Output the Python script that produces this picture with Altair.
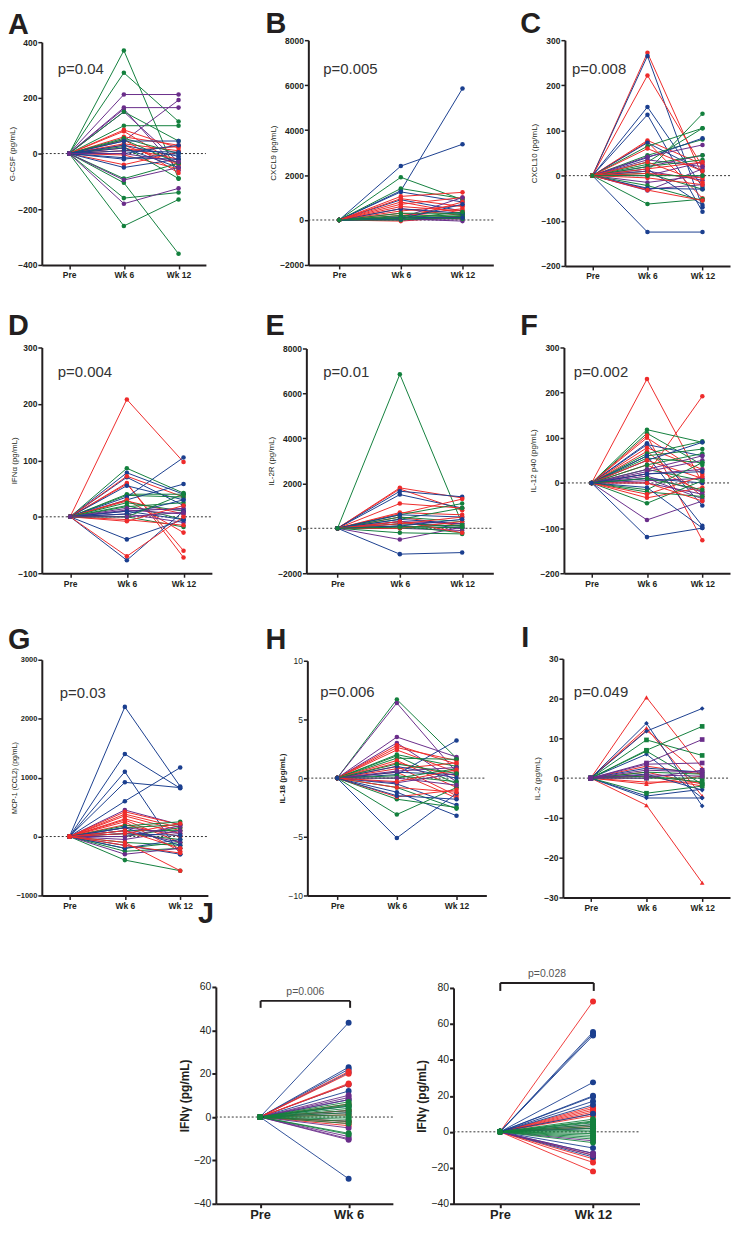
import altair as alt
import pandas as pd

FONT = "Liberation Sans"
INK = "#231f20"
W, H, M = 728, 1218, 8

TIMES = ["Pre", "Wk 6", "Wk 12"]
GROUPS = ["P", "R", "B", "G"]
COLORS = ["#6a2d8a", "#ee2b2b", "#1b3f8f", "#13803d"]
SHAPES_I = ["square", "triangle-up", "diamond", "square"]

# ---- A: G-CSF ----
gcsf_group = ["G", "G", "P", "P", "P", "P", "G", "G", "P", "R", "R", "R", "R", "R", "R", "R", "R", "R", "R",
              "G", "G", "G", "B", "B", "B", "B", "B", "B", "B", "B", "G", "G", "G", "G", "P", "P", "P"]
gcsf_wk6 = [370, 290, 212, 165, 160, 150, 150, 100, 45, 85, 80, 60, 50, 35, 20, 10, -5, -40, 30,
            50, 55, 25, 45, 30, 20, 0, -15, -50, 10, -20, -90, -105, -160, -260, -95, -180, 0]
gcsf_wk12 = [-90, 115, 212, 165, -60, -30, 45, 100, 192, 20, -40, 30, -70, 10, -20, 25, -55, 5, -40,
             -35, 0, -90, 45, -10, -50, 30, -20, -20, 5, 0, -35, -360, -140, -165, -50, -125, -30]

# ---- B: CXCL9 ----
cxcl9_group = ["B", "B", "G", "G", "B", "B", "R", "R", "R", "R", "R", "R", "R", "R", "R", "R", "R",
               "P", "P", "P", "G", "G", "G", "G", "G", "G", "B", "B", "B", "R", "G"]
cxcl9_wk6 = [2400, 1300, 1900, 1400, 1250, 900, 1050, 950, 800, 700, 500, 400, 300, 200, 100, -50, 50,
             100, 50, 0, 300, 200, 100, 50, 0, 150, 500, 100, 50, 600, 80]
cxcl9_wk12 = [3370, 5850, 900, 950, 800, 400, 1230, 600, 300, 1000, 200, 650, 100, 500, 50, 150, 800,
              1000, -50, 50, 300, 150, 250, 100, 200, 50, 300, 100, 700, 400, 350]

# ---- C: CXCL10 ----
cxcl10_group = ["R", "B", "R", "B", "B", "R", "R", "B", "G", "G", "G", "G", "B", "P", "P", "P", "P", "P",
                "P", "P", "P", "G", "G", "G", "G", "G", "B", "B", "B", "R", "R", "R", "R", "R", "R", "G"]
cxcl10_wk6 = [272, 265, 222, 152, 135, 78, 75, 73, 65, 10, 45, 30, 40, 42, 35, 20, 10, 0,
              -15, -30, -33, 25, 20, 5, -22, -63, -125, -28, 15, 60, 30, 15, 5, -5, -32, 0]
cxcl10_wk12 = [0, -70, 20, -25, -80, 25, -50, 10, 105, 137, 80, 105, 83, 68, 20, 45, -10, 30,
               0, -20, 15, 45, 35, -30, -55, -52, -125, -30, -65, 10, -15, 30, -5, -20, -55, 0]

# ---- D: IFN-alpha ----
ifna_group = ["R", "G", "B", "B", "R", "R", "R", "B", "G", "G", "B", "B", "R", "R", "G", "G", "G",
              "P", "P", "P", "P", "B", "B", "G", "R", "R", "B", "B", "R", "G", "P"]
ifna_wk6 = [208, 86, 78, 70, 72, 60, 58, 55, 40, 38, 35, 30, 30, 28, 25, 20, 18,
            15, 12, 10, 5, 10, 5, 0, -5, -8, -40, -77, -70, 0, 0]
ifna_wk12 = [97, 42, 40, 20, 35, -72, -60, 30, 40, 35, 105, 58, -28, 5, 10, -5, 25,
             12, 5, 15, -10, -5, 30, -18, -15, 20, -5, 10, 0, 40, 8]

# ---- E: IL-2R ----
il2r_group = ["G", "R", "R", "B", "B", "R", "R", "R", "R", "G", "G", "G", "B", "B", "B", "P", "P", "P",
              "P", "P", "G", "G", "G", "G", "R", "R", "R", "B", "B", "G"]
il2r_wk6 = [6850, 1800, 1750, 1650, 1500, 1100, 700, 650, 500, 600, 500, 400, 600, 400, 300, 300, 200, 100,
            -500, 0, 200, 100, -200, 0, 300, 200, 0, -1150, 100, 50]
il2r_wk12 = [200, 1350, 800, 1400, 900, 900, 600, 1300, 100, 1100, 300, 900, 500, 200, 0, 200, 100, 0,
             50, -100, 100, -200, -250, 50, -200, 500, 300, -1080, 400, 150]

# ---- F: IL-12 p40 ----
il12_group = ["R", "R", "G", "G", "R", "R", "B", "B", "R", "R", "G", "G", "G", "B", "B", "R", "R", "G", "G",
              "P", "P", "P", "P", "P", "P", "P", "P", "B", "B", "B", "G", "G", "G", "R", "R", "R", "G", "B"]
il12_wk6 = [230, 20, 118, 110, 105, 100, 88, 85, 78, 70, 65, 60, 55, 50, 60, 50, 40, 40, 30,
            30, 25, 20, 15, 10, 5, 0, -82, 20, 10, -120, -20, -45, -15, -25, -33, 0, 10, -10]
il12_wk12 = [0, 192, 90, 40, -127, 20, -50, 60, 30, -30, 92, 75, 45, 90, -95, 10, -20, 65, 5,
             60, 50, 30, -20, -35, 10, -25, -40, 25, 0, -100, -30, 5, 45, 15, -10, -40, -15, -100]

# ---- G: MCP-1 (CCL2) ----
mcp1_group = ["B", "B", "B", "B", "B", "P", "R", "R", "R", "R", "R", "R", "R", "G", "G", "G", "G", "G",
              "G", "G", "G", "G", "P", "P", "P", "P", "P", "B", "B", "B", "B", "R", "R", "R", "R"]
mcp1_wk6 = [2200, 1400, 1100, 920, 600, 450, 420, 380, 350, 300, 280, 250, 200, 180, 150, 100, 50, 0,
            -100, -200, -400, -250, 150, 100, 0, -300, -50, 150, -150, -200, 50, -100, -150, 100, 50]
mcp1_wk12 = [850, 820, -300, 830, 1170, 200, 200, 150, 100, 50, -100, -250, 0, 250, 200, 100, -50, 150,
             -150, -100, -580, -200, 50, -100, 180, -200, 100, -150, -300, -50, 20, -580, -280, -200, 220]

# ---- H: IL-18 ----
il18_group = ["G", "P", "P", "P", "R", "R", "R", "G", "G", "G", "R", "R", "R", "R", "R", "B", "B", "B",
              "B", "B", "B", "G", "G", "G", "G", "G", "P", "P", "P", "R", "R", "R", "G", "B"]
il18_wk6 = [6.7, 6.4, 3.5, 3.0, 2.8, 2.6, 2.4, 2.0, 1.9, 1.7, 1.5, 1.3, 1.0, 0.8, 0.5, 0.3, 0.5, -0.5,
            -1.2, -5.1, 1.0, 0.2, 0.0, -0.8, -1.8, -3.1, 0.6, 0.0, -0.4, -0.3, -1.6, -0.8, 1.2, -1.5]
il18_wk12 = [1.7, 0.5, 1.8, -0.3, 1.2, 1.5, 0.5, 1.0, -0.5, 1.6, -0.8, 0.2, -1.5, 1.3, -1.7, 3.2, 0.3, -2.3,
             -3.2, -1.3, 0.0, -0.3, 0.8, -2.6, -2.5, -0.8, 0.9, -0.6, 0.4, 0.7, -1.0, -1.2, 0.4, -1.8]

# ---- I: IL-2 ----
il2_group = ["R", "R", "R", "R", "R", "R", "R", "R", "R", "B", "B", "B", "B", "B", "B", "B",
             "G", "G", "G", "G", "G", "G", "G", "P", "P", "P", "P", "P"]
il2_wk6 = [20.3, 12.6, 12.0, -6.8, 3.0, 1.5, 0.5, -1.5, -1.0, 13.8, 11.8, 6.0, 2.5, -4.5, -5.0, 1.0,
           9.6, 6.8, 7.0, 0.0, -3.8, 1.5, 0.5, 3.8, 3.5, 2.0, 0.8, 0.0]
il2_wk12 = [2.5, -4.5, 0.5, -26.3, 1.0, -1.5, -2.0, 0.5, -1.0, -7.0, 17.5, -5.0, 1.5, -2.8, -5.0, -3.0,
            5.7, -1.5, 13.0, 0.0, -2.0, 1.0, -1.0, 9.7, 3.8, 1.5, 0.5, 2.0]

# ---- J: IFN-gamma ----
ifng6_group = ["B"] * 11 + ["R"] * 10 + ["P"] * 8 + ["G"] * 14
ifng6_wk6 = [43.5, 23, 22, 20.5, 15, -28.5, 5, 3, -2, 8, 12,
             21, 20, 15.5, 15, 6, 3, -2, -3, -4, 1,
             10, 9, 8, -9, -10, -10.5, -5, 2,
             7, 6, 5, 4, 3, 2, 1, 0, -1, -2, -7.5, -8, -3, 5.5]
ifng12_group = ["R"] * 12 + ["B"] * 13 + ["P"] * 5 + ["G"] * 14
ifng12_wk12 = [72.5, 14, 13, 12, 11, 10, 9, -15, -17, -22, -13, 3,
               55.5, 54.5, 53.5, 27.5, 20, 19.5, 17, 15, 10, -9, -12, -14, 2,
               -12, -13, 4, -5, 2,
               7, 6, 5, 4, 3, 2, 1, 0, -1, -2, -3, -4, -6, 5.5]


def long3(groups, wk6, wk12):
    rows = []
    for i, (g, a, b) in enumerate(zip(groups, wk6, wk12)):
        rows.append({"subject": i, "group": g, "time": "Pre", "value": 0.0})
        rows.append({"subject": i, "group": g, "time": "Wk 6", "value": a})
        rows.append({"subject": i, "group": g, "time": "Wk 12", "value": b})
    return pd.DataFrame(rows)


def long2(groups, vals, label):
    rows = []
    for i, (g, a) in enumerate(zip(groups, vals)):
        rows.append({"subject": i, "group": g, "time": "Pre", "value": 0.0})
        rows.append({"subject": i, "group": g, "time": label, "value": a})
    return pd.DataFrame(rows)


DUMMY = pd.DataFrame({"d": [0]})
cscale = alt.Scale(domain=GROUPS, range=COLORS)


def text_layer(txt, xp, yp, size, weight="normal", color=INK, align="left"):
    return alt.Chart(DUMMY).mark_text(
        text=txt, align=align, baseline="alphabetic", font=FONT, fontSize=size,
        fontWeight=weight, color=color
    ).encode(x=alt.value(xp - M), y=alt.value(yp - M))


def panel(df, times, box, domain, ticks, ytitle, label, label_xy, ptext, p_xy,
          big=False, shapes=False, ylab_weight="bold", ytitle_weight="normal",
          ylab_size=8.5, title_pad=2, title_size=8, title_right=None):
    x0, x1, ytop, ybot = box
    extra = {}
    if title_right is not None:
        extra["titleX"] = title_right - x0
    if big:
        xax = alt.Axis(orient="bottom", offset=(ybot - M) - H, title=None, labelAngle=0,
                       labelFont=FONT, labelFontSize=13, labelFontWeight="bold", labelColor=INK,
                       domainColor=INK, domainWidth=2, tickColor=INK, tickWidth=2, tickSize=4,
                       labelPadding=1, grid=False)
        yax = alt.Axis(orient="left", offset=-(x0 - M), values=ticks, title=ytitle, format="d",
                       titleFont=FONT, titleFontSize=12, titleFontWeight="bold", titleColor=INK,
                       titlePadding=title_pad,
                       labelFont=FONT, labelFontSize=10.5, labelColor=INK, labelPadding=1,
                       domainColor=INK, domainWidth=2, tickColor=INK, tickWidth=2, tickSize=4,
                       grid=False)
    else:
        xax = alt.Axis(orient="bottom", offset=(ybot - M) - H, title=None, labelAngle=0,
                       labelFont=FONT, labelFontSize=8.5, labelFontWeight="bold", labelColor=INK,
                       domainColor=INK, domainWidth=2, tickColor=INK, tickWidth=1.5, tickSize=4,
                       labelPadding=2, grid=False)
        yax = alt.Axis(orient="left", offset=-(x0 - M), values=ticks, title=ytitle, format="d",
                       titleFont=FONT, titleFontSize=title_size, titleFontWeight=ytitle_weight,
                       titleColor=INK, titlePadding=title_pad,
                       labelFont=FONT, labelFontSize=ylab_size, labelFontWeight=ylab_weight,
                       labelColor=INK, labelPadding=1,
                       domainColor=INK, domainWidth=2, tickColor=INK, tickWidth=1.5, tickSize=4,
                       grid=False, **extra)
    x = alt.X("time:N", sort=times,
              scale=alt.Scale(type="point", domain=times, range=[x0 - M, x1 - M], padding=0.5),
              axis=xax)
    y = alt.Y("value:Q", scale=alt.Scale(domain=domain, range=[ybot - M, ytop - M], nice=False, zero=False),
              axis=yax)
    color = alt.Color("group:N", scale=cscale, legend=None)
    base = alt.Chart(df)
    zero = alt.Chart(pd.DataFrame({"value": [0.0]})).mark_rule(
        strokeDash=[2, 2], color="#333333", strokeWidth=1
    ).encode(y=y, x=alt.value(x0 - M), x2=alt.value(x1 - M))
    lines = base.mark_line(strokeWidth=0.9 if big else 1.0).encode(
        x=x, y=y, detail="subject:N", color=color)
    if shapes:
        pts = base.mark_point(filled=True, size=22, opacity=1).encode(
            x=x, y=y, color=color,
            shape=alt.Shape("group:N", scale=alt.Scale(domain=GROUPS, range=SHAPES_I), legend=None))
    else:
        pts = base.mark_circle(size=36 if big else 21, opacity=1).encode(x=x, y=y, color=color)
    layers = [zero, lines, pts]
    if label:
        layers.append(text_layer(label, label_xy[0], label_xy[1], 29, "bold", "#231f20"))
    if ptext:
        layers.append(text_layer(ptext, p_xy[0], p_xy[1], 15, "normal", "#333333"))
    return alt.layer(*layers)


def bracket(xa, xb, yb, ytip, txt, ty):
    hline = alt.Chart(DUMMY).mark_rule(color=INK, strokeWidth=2).encode(
        x=alt.value(xa - M), x2=alt.value(xb - M), y=alt.value(yb - M))
    lt = alt.Chart(DUMMY).mark_rule(color=INK, strokeWidth=2).encode(
        x=alt.value(xa - M), y=alt.value(yb - M), y2=alt.value(ytip - M))
    rt = alt.Chart(DUMMY).mark_rule(color=INK, strokeWidth=2).encode(
        x=alt.value(xb - M), y=alt.value(yb - M), y2=alt.value(ytip - M))
    t = alt.Chart(DUMMY).mark_text(text=txt, align="center", baseline="alphabetic", font=FONT,
                                   fontSize=10.5, color="#555555").encode(
        x=alt.value((xa + xb) / 2 - M), y=alt.value(ty - M))
    return alt.layer(hline, lt, rt, t)


panels = [
    panel(long3(gcsf_group, gcsf_wk6, gcsf_wk12), TIMES, (42, 207, 39, 263), [-400, 400],
          [-400, -200, 0, 200, 400], "G-CSF (pg/mL)", "A", (8, 31), "p=0.04", (58, 71), title_pad=1),
    panel(long3(cxcl9_group, cxcl9_wk6, cxcl9_wk12), TIMES, (310, 496, 37, 263), [-2000, 8000],
          [-2000, 0, 2000, 4000, 6000, 8000], "CXCL9 (pg/mL)", "B", (267, 30), "p=0.005", (325, 71)),
    panel(long3(cxcl10_group, cxcl10_wk6, cxcl10_wk12), TIMES, (568, 734, 37, 264), [-200, 300],
          [-200, -100, 0, 100, 200, 300], "CXCL10 (pg/mL)", "C", (523, 30), "p=0.008", (575, 71)),
    panel(long3(ifna_group, ifna_wk6, ifna_wk12), TIMES, (42, 213, 346, 573), [-100, 300],
          [-100, 0, 100, 200, 300], "IFNα (pg/mL)", "D", (8, 333), "p=0.004", (58, 376),
          title_right=19),
    panel(long3(il2r_group, il2r_wk6, il2r_wk12), TIMES, (308, 496, 347, 573), [-2000, 8000],
          [-2000, 0, 2000, 4000, 6000, 8000], "IL-2R (pg/mL)", "E", (267, 333), "p=0.01", (325, 376)),
    panel(long3(il12_group, il12_wk6, il12_wk12), TIMES, (567, 734, 346, 573), [-200, 300],
          [-200, -100, 0, 100, 200, 300], "IL-12 p40 (pg/mL)", "F", (523, 333), "p=0.002", (577, 376)),
    panel(long3(mcp1_group, mcp1_wk6, mcp1_wk12), TIMES, (42, 209, 660, 897), [-1000, 3000],
          [-1000, 0, 1000, 2000, 3000], "MCP-1 (CCL2) (pg/mL)", "G", (8, 649), "p=0.03", (60, 698),
          ylab_size=7.5, title_size=7, title_right=17.5),
    panel(long3(il18_group, il18_wk6, il18_wk12), TIMES, (309, 489, 661, 897), [-10, 10],
          [-10, -5, 0, 5, 10], "IL-18 (pg/mL)", "H", (267, 649), "p=0.006", (322, 697),
          ylab_weight="normal", ytitle_weight="bold"),
    panel(long3(il2_group, il2_wk6, il2_wk12), TIMES, (566, 734, 659, 899), [-30, 30],
          [-30, -20, -10, 0, 10, 20, 30], "IL-2 (pg/mL)", "I", (524, 647), "p=0.049", (577, 697),
          shapes=True),
    panel(long2(ifng6_group, ifng6_wk6, "Wk 6"), ["Pre", "Wk 6"], (217, 395, 989, 1207), [-40, 60],
          [-40, -20, 0, 20, 40, 60], "IFNγ (pg/mL)", "J", (199, 925), None, None, big=True),
    panel(long2(ifng12_group, ifng12_wk12, "Wk 12"), ["Pre", "Wk 12"], (456, 643, 990, 1207), [-40, 80],
          [-40, -20, 0, 20, 40, 60, 80], "IFNγ (pg/mL)", None, None, None, None, big=True),
    bracket(262, 352, 1003, 1010, "p=0.006", 997),
    bracket(503, 597, 985, 993, "p=0.028", 979),
]

chart = alt.layer(*panels).resolve_scale(x="independent", y="independent").properties(
    width=W, height=H, padding=0, autosize=alt.AutoSizeParams(type="none")
).configure_view(stroke=None)

chart.save("out.html", embed_options={"renderer": "svg", "actions": False})
